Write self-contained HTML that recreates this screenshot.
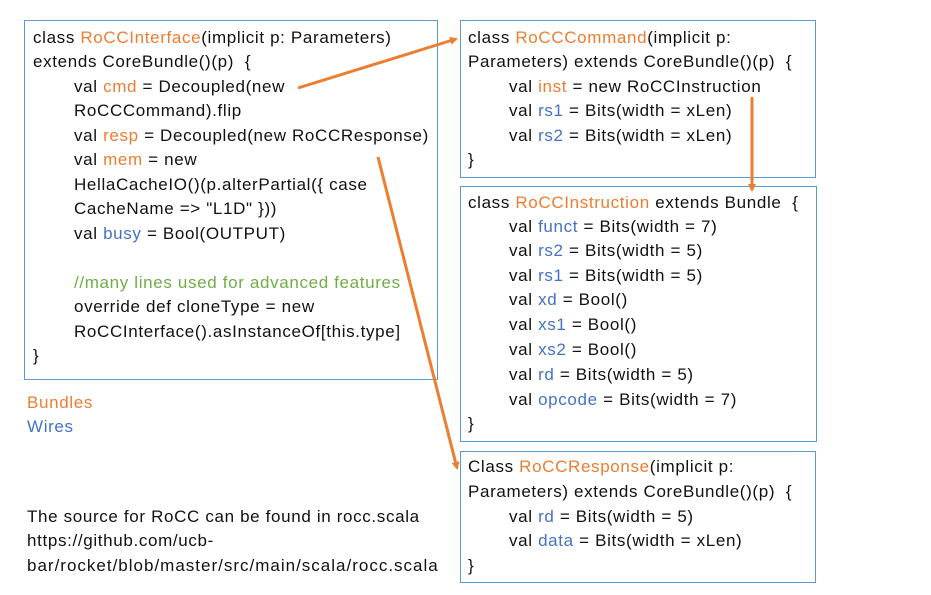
<!DOCTYPE html>
<html><head><style>
body{margin:0;width:931px;height:595px;background:#fff;position:relative;font-family:"Liberation Sans",sans-serif;font-size:17px;letter-spacing:0.65px;color:#111;overflow:hidden}
.box{position:absolute;border:1.3px solid #5B9BD5;box-sizing:border-box}
.l{position:absolute;white-space:nowrap;line-height:20px}
.o{color:#ED7D31}.b{color:#4472C4}.g{color:#70AD47}
</style></head><body>
<div class="box" style="left:24px;top:20px;width:414px;height:360px"></div>
<div class="box" style="left:460px;top:20px;width:356px;height:158px"></div>
<div class="box" style="left:460px;top:186px;width:357px;height:256px"></div>
<div class="box" style="left:460px;top:451px;width:356px;height:132px"></div>

<div class="l" style="left:33px;top:28px">class <span class="o">RoCCInterface</span>(implicit p: Parameters)</div>
<div class="l" style="left:33px;top:52px">extends CoreBundle()(p)&nbsp; {</div>
<div class="l" style="left:74px;top:77px">val <span class="o">cmd</span> = Decoupled(new</div>
<div class="l" style="left:74px;top:101px">RoCCCommand).flip</div>
<div class="l" style="left:74px;top:126px">val <span class="o">resp</span> = Decoupled(new RoCCResponse)</div>
<div class="l" style="left:74px;top:150px">val <span class="o">mem</span> = new</div>
<div class="l" style="left:74px;top:175px">HellaCacheIO()(p.alterPartial({ case</div>
<div class="l" style="left:74px;top:199px">CacheName =&gt; "L1D" }))</div>
<div class="l" style="left:74px;top:224px">val <span class="b">busy</span> = Bool(OUTPUT)</div>
<div class="l" style="left:74px;top:273px"><span class="g">//many lines used for advanced features</span></div>
<div class="l" style="left:74px;top:297px">override def cloneType = new</div>
<div class="l" style="left:74px;top:322px">RoCCInterface().asInstanceOf[this.type]</div>
<div class="l" style="left:33px;top:346px">}</div>

<div class="l" style="left:468px;top:28px">class <span class="o">RoCCCommand</span>(implicit p:</div>
<div class="l" style="left:468px;top:52px">Parameters) extends CoreBundle()(p)&nbsp; {</div>
<div class="l" style="left:509px;top:77px">val <span class="o">inst</span> = new RoCCInstruction</div>
<div class="l" style="left:509px;top:101px">val <span class="b">rs1</span> = Bits(width = xLen)</div>
<div class="l" style="left:509px;top:126px">val <span class="b">rs2</span> = Bits(width = xLen)</div>
<div class="l" style="left:468px;top:150px">}</div>

<div class="l" style="left:468px;top:193px">class <span class="o">RoCCInstruction</span> extends Bundle&nbsp; {</div>
<div class="l" style="left:509px;top:217px">val <span class="b">funct</span> = Bits(width = 7)</div>
<div class="l" style="left:509px;top:241px">val <span class="b">rs2</span> = Bits(width = 5)</div>
<div class="l" style="left:509px;top:266px">val <span class="b">rs1</span> = Bits(width = 5)</div>
<div class="l" style="left:509px;top:290px">val <span class="b">xd</span> = Bool()</div>
<div class="l" style="left:509px;top:315px">val <span class="b">xs1</span> = Bool()</div>
<div class="l" style="left:509px;top:340px">val <span class="b">xs2</span> = Bool()</div>
<div class="l" style="left:509px;top:365px">val <span class="b">rd</span> = Bits(width = 5)</div>
<div class="l" style="left:509px;top:390px">val <span class="b">opcode</span> = Bits(width = 7)</div>
<div class="l" style="left:468px;top:414px">}</div>

<div class="l" style="left:468px;top:457px">Class <span class="o">RoCCResponse</span>(implicit p:</div>
<div class="l" style="left:468px;top:482px">Parameters) extends CoreBundle()(p)&nbsp; {</div>
<div class="l" style="left:509px;top:507px">val <span class="b">rd</span> = Bits(width = 5)</div>
<div class="l" style="left:509px;top:531px">val <span class="b">data</span> = Bits(width = xLen)</div>
<div class="l" style="left:468px;top:556px">}</div>

<div class="l o" style="left:27px;top:393px">Bundles</div>
<div class="l b" style="left:27px;top:417px">Wires</div>
<div class="l" style="left:27px;top:507px">The source for RoCC can be found in rocc.scala</div>
<div class="l" style="left:27px;top:531px">https://github.com/ucb-</div>
<div class="l" style="left:27px;top:556px;letter-spacing:1px">bar/rocket/blob/master/src/main/scala/rocc.scala</div>

<svg width="931" height="595" style="position:absolute;left:0;top:0">
<defs><marker id="a" markerWidth="8" markerHeight="8" refX="6" refY="4" orient="auto" markerUnits="userSpaceOnUse"><path d="M0,0 L8,4 L0,8 Z" fill="#ED7D31"/></marker></defs>
<g stroke="#ED7D31" stroke-width="3" fill="none">
<line x1="298" y1="88" x2="456" y2="39" marker-end="url(#a)"/>
<line x1="378" y1="157" x2="457" y2="468" marker-end="url(#a)"/>
<line x1="752" y1="97" x2="752" y2="190" marker-end="url(#a)"/>
</g></svg>
</body></html>
